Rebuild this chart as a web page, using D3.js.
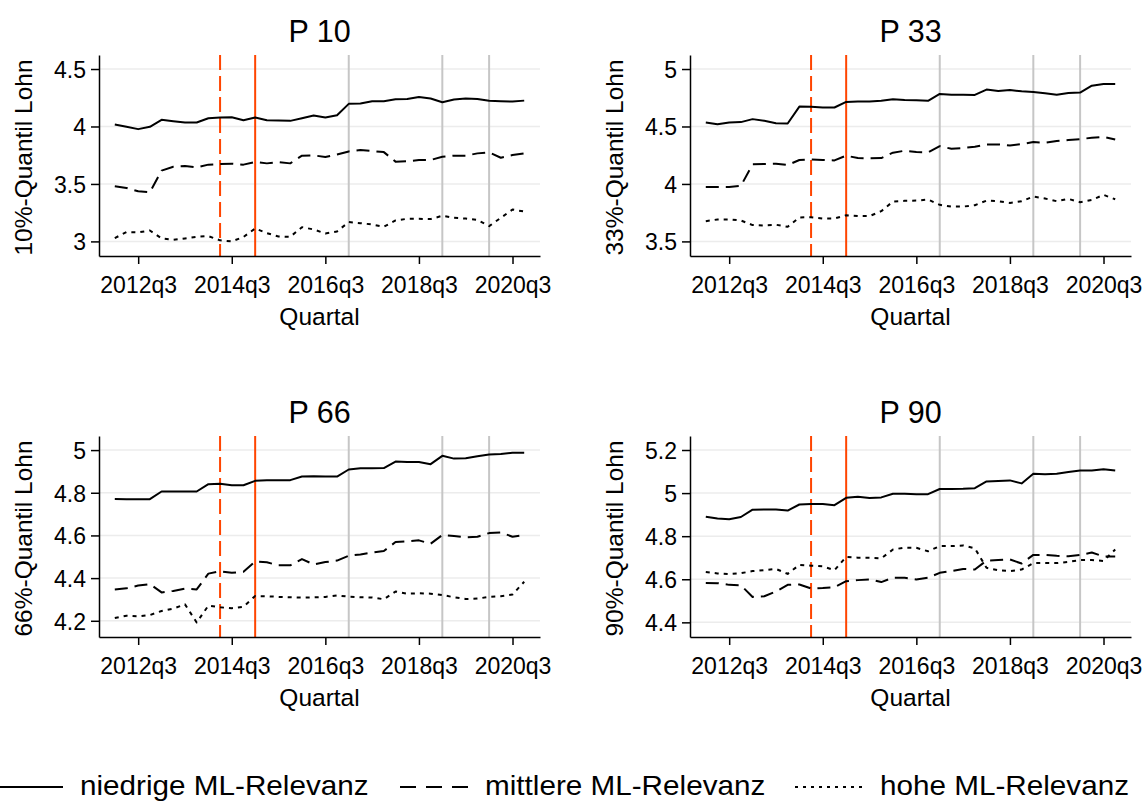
<!DOCTYPE html>
<html>
<head>
<meta charset="utf-8">
<script src="https://cdn.jsdelivr.net/npm/d3@7"></script>
<style>
  html, body { margin: 0; padding: 0; background: #fff; }
  svg { display: block; }
</style>
</head>
<body>
<svg id="chart" width="1148" height="802"></svg>
<script>
// Quarterly observations, 2012q1 – 2020q4
const quarters = [
  "2012q1","2012q2","2012q3","2012q4","2013q1","2013q2","2013q3","2013q4",
  "2014q1","2014q2","2014q3","2014q4","2015q1","2015q2","2015q3","2015q4",
  "2016q1","2016q2","2016q3","2016q4","2017q1","2017q2","2017q3","2017q4",
  "2018q1","2018q2","2018q3","2018q4","2019q1","2019q2","2019q3","2019q4",
  "2020q1","2020q2","2020q3","2020q4"
];

const seriesNames = ["niedrige ML-Relevanz", "mittlere ML-Relevanz", "hohe ML-Relevanz"];

// P 10
const p10Low  = [4.017,3.997,3.977,3.997,4.058,4.046,4.035,4.035,4.072,4.078,4.081,4.055,4.078,4.055,4.052,4.049,4.072,4.095,4.078,4.098,4.197,4.200,4.220,4.220,4.237,4.240,4.257,4.243,4.211,4.234,4.243,4.240,4.223,4.220,4.217,4.225];
const p10Mid  = [3.480,3.465,3.436,3.428,3.616,3.650,3.656,3.645,3.668,3.673,3.676,3.668,3.691,3.679,3.691,3.679,3.746,3.749,3.734,3.757,3.783,3.795,3.786,3.777,3.694,3.697,3.708,3.708,3.737,3.746,3.746,3.766,3.775,3.728,3.751,3.766];
const p10High = [3.029,3.081,3.078,3.095,3.026,3.014,3.026,3.040,3.046,3.009,3.000,3.038,3.113,3.072,3.043,3.040,3.124,3.104,3.069,3.087,3.168,3.159,3.147,3.127,3.182,3.197,3.197,3.194,3.223,3.205,3.199,3.188,3.133,3.205,3.277,3.260];

// P 33
const p33Low  = [4.535,4.520,4.535,4.538,4.564,4.549,4.529,4.526,4.673,4.671,4.665,4.665,4.714,4.717,4.717,4.723,4.737,4.731,4.728,4.723,4.783,4.777,4.777,4.775,4.821,4.809,4.818,4.806,4.801,4.789,4.777,4.792,4.795,4.855,4.870,4.870];
const p33Mid  = [3.974,3.974,3.974,3.983,4.171,4.173,4.176,4.165,4.208,4.214,4.208,4.205,4.246,4.225,4.223,4.225,4.272,4.289,4.277,4.275,4.329,4.306,4.312,4.324,4.344,4.344,4.335,4.347,4.364,4.358,4.373,4.382,4.390,4.402,4.410,4.387];
const p33High = [3.676,3.691,3.691,3.682,3.642,3.639,3.645,3.627,3.708,3.711,3.699,3.699,3.728,3.720,3.720,3.763,3.847,3.853,3.855,3.864,3.818,3.803,3.803,3.815,3.855,3.850,3.835,3.850,3.890,3.873,3.850,3.870,3.841,3.861,3.905,3.867];

// P 66
const p66Low  = [4.771,4.770,4.770,4.770,4.806,4.806,4.806,4.806,4.840,4.842,4.835,4.835,4.856,4.859,4.859,4.859,4.876,4.877,4.876,4.876,4.909,4.915,4.915,4.916,4.946,4.944,4.944,4.934,4.973,4.960,4.962,4.971,4.979,4.982,4.988,4.987];
const p66Mid  = [4.347,4.352,4.365,4.372,4.333,4.340,4.351,4.347,4.421,4.432,4.425,4.430,4.478,4.474,4.460,4.460,4.489,4.464,4.475,4.482,4.505,4.511,4.520,4.527,4.569,4.572,4.577,4.561,4.602,4.597,4.591,4.594,4.611,4.614,4.594,4.602];
const p66High = [4.213,4.224,4.221,4.227,4.246,4.257,4.277,4.192,4.271,4.263,4.259,4.266,4.316,4.315,4.312,4.310,4.309,4.310,4.312,4.319,4.313,4.310,4.309,4.301,4.337,4.327,4.329,4.327,4.321,4.310,4.302,4.304,4.312,4.315,4.323,4.383];

// P 90
const p90Low  = [4.890,4.882,4.879,4.889,4.923,4.924,4.924,4.919,4.947,4.949,4.949,4.944,4.978,4.983,4.977,4.980,4.997,4.997,4.995,4.995,5.019,5.019,5.020,5.023,5.054,5.056,5.059,5.045,5.090,5.087,5.090,5.098,5.105,5.105,5.111,5.105];
const p90Mid  = [4.583,4.582,4.574,4.572,4.518,4.521,4.543,4.574,4.576,4.557,4.559,4.563,4.591,4.596,4.599,4.587,4.607,4.607,4.599,4.607,4.630,4.638,4.648,4.645,4.687,4.689,4.692,4.673,4.713,4.713,4.709,4.707,4.713,4.724,4.706,4.706];
const p90High = [4.634,4.627,4.624,4.628,4.638,4.642,4.648,4.625,4.667,4.663,4.660,4.642,4.704,4.700,4.700,4.697,4.738,4.747,4.746,4.730,4.754,4.754,4.757,4.744,4.653,4.642,4.638,4.645,4.675,4.676,4.675,4.681,4.689,4.689,4.685,4.738];

const panelTitles = ["P 10", "P 33", "P 66", "P 90"];
const yTitles = ["10%-Quantil Lohn", "33%-Quantil Lohn", "66%-Quantil Lohn", "90%-Quantil Lohn"];
const yTicks = [[3, 3.5, 4, 4.5], [3.5, 4, 4.5, 5], [4.2, 4.4, 4.6, 4.8, 5], [4.4, 4.6, 4.8, 5, 5.2]];
const yDomains = [[2.873, 4.622], [3.373, 5.122], [4.124, 5.066], [4.332, 5.265]];
const xTickLabels = ["2012q3", "2014q3", "2016q3", "2018q3", "2020q3"];
const xTitle = "Quartal";

// Reference dates marked by vertical lines
const redDashedAt = "2014q2";
const redSolidAt = "2015q1";
const greyAt = ["2017q1", "2019q1", "2020q1"];

const panelSeries = [
  [p10Low, p10Mid, p10High],
  [p33Low, p33Mid, p33High],
  [p66Low, p66Mid, p66High],
  [p90Low, p90Mid, p90High]
];

// ---- drawing ----
const FONT = "'Liberation Sans', Arial, Helvetica, sans-serif";
const RED = "#ff4500";
const GREY = "#c6c6c6";
const GRID = "#ececec";
const dashes = [null, "13,7", "4,5"];

// Stata-style quarter number: quarters since 1960q1
const tq = s => (+s.slice(0, 4) - 1960) * 4 + (+s.slice(5) - 1);

const svg = d3.select("#chart");

const panelBoxes = [
  { left: 99,  top: 55,  w: 441, h: 201 },
  { left: 690, top: 55,  w: 441, h: 201 },
  { left: 99,  top: 436, w: 441, h: 201 },
  { left: 690, top: 436, w: 441, h: 201 }
];

function addText(parent, x, y, str, size, anchor, rotate) {
  return parent.append("text")
    .attr("transform", `translate(${x},${y})` + (rotate ? " rotate(-90)" : ""))
    .attr("text-anchor", anchor)
    .attr("font-family", FONT)
    .attr("font-size", size)
    .attr("fill", "#000")
    .text(str);
}

panelBoxes.forEach((b, p) => {
  const g = svg.append("g").attr("transform", `translate(${b.left},${b.top})`);

  const x = d3.scaleLinear()
    .domain([tq("2012q3") - 3.35, tq("2020q3") + 2.35])
    .range([0, b.w]);
  const y = d3.scaleLinear().domain(yDomains[p]).range([b.h, 0]);

  // horizontal gridlines
  g.append("g").selectAll("line").data(yTicks[p]).join("line")
    .attr("x1", 0).attr("x2", b.w)
    .attr("y1", d => y(d)).attr("y2", d => y(d))
    .attr("stroke", GRID).attr("stroke-width", 1.5);

  // vertical reference lines
  g.append("g").selectAll("line").data(greyAt).join("line")
    .attr("x1", d => x(tq(d))).attr("x2", d => x(tq(d)))
    .attr("y1", 0).attr("y2", b.h)
    .attr("stroke", GREY).attr("stroke-width", 2);
  g.append("line")
    .attr("x1", x(tq(redDashedAt))).attr("x2", x(tq(redDashedAt)))
    .attr("y1", 0).attr("y2", b.h)
    .attr("stroke", RED).attr("stroke-width", 2).attr("stroke-dasharray", "15,6");
  g.append("line")
    .attr("x1", x(tq(redSolidAt))).attr("x2", x(tq(redSolidAt)))
    .attr("y1", 0).attr("y2", b.h)
    .attr("stroke", RED).attr("stroke-width", 2);

  // series lines
  const line = d3.line().x((d, i) => x(tq(quarters[i]))).y(d => y(d));
  panelSeries[p].forEach((vals, s) => {
    g.append("path")
      .datum(vals)
      .attr("d", line)
      .attr("fill", "none")
      .attr("stroke", "#000")
      .attr("stroke-width", 2)
      .attr("stroke-linejoin", "round")
      .attr("stroke-dasharray", dashes[s]);
  });

  // axes
  const xTickValues = xTickLabels.map(tq);
  const xAxis = d3.axisBottom(x)
    .tickValues(xTickValues)
    .tickFormat(v => xTickLabels[xTickValues.indexOf(v)])
    .tickSize(8).tickSizeOuter(0);
  const xa = g.append("g").attr("transform", `translate(0,${b.h})`).call(xAxis);
  xa.select(".domain").attr("stroke", "#000").attr("stroke-width", 1.5);
  xa.selectAll(".tick line").attr("stroke", "#000").attr("stroke-width", 1.5);
  xa.selectAll(".tick text")
    .attr("font-family", FONT).attr("font-size", 23).attr("fill", "#000")
    .attr("y", 37).attr("dy", null);

  const yAxis = d3.axisLeft(y).tickValues(yTicks[p]).tickFormat(d => String(d))
    .tickSize(8).tickSizeOuter(0);
  const ya = g.append("g").call(yAxis);
  ya.select(".domain").attr("stroke", "#000").attr("stroke-width", 1.5);
  ya.selectAll(".tick line").attr("stroke", "#000").attr("stroke-width", 1.5);
  ya.selectAll(".tick text")
    .attr("font-family", FONT).attr("font-size", 23).attr("fill", "#000")
    .attr("x", -13).attr("dy", "0.36em");

  // titles
  addText(g, b.w / 2, -13, panelTitles[p], 30.5, "middle", false);
  addText(g, b.w / 2, b.h + 69, xTitle, 24.5, "middle", false);
  addText(g, -67, b.h / 2 + 2, yTitles[p], 24.5, "middle", true);
});

// legend
const legendKeys = [
  { x0: 0,   x1: 63,  tx: 80 },
  { x0: 400, x1: 468, tx: 485 },
  { x0: 795, x1: 865, tx: 880 }
];
const lg = svg.append("g");
seriesNames.forEach((name, s) => {
  const k = legendKeys[s];
  lg.append("line")
    .attr("x1", k.x0).attr("x2", k.x1).attr("y1", 787).attr("y2", 787)
    .attr("stroke", "#000").attr("stroke-width", 2)
    .attr("stroke-dasharray", s === 1 ? "16,10" : s === 2 ? "3,5" : null);
  lg.append("text")
    .attr("transform", `translate(${k.tx},795) scale(1.06,1)`)
    .attr("font-family", FONT)
    .attr("font-size", 28)
    .attr("fill", "#000")
    .text(name);
});
</script>
</body>
</html>
